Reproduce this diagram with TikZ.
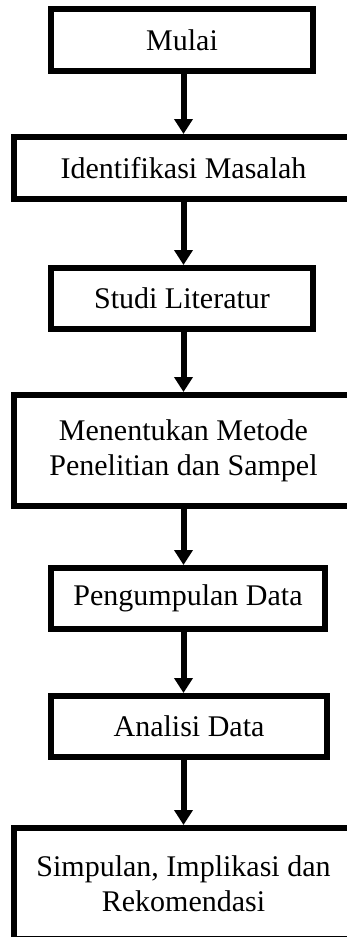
\documentclass[tikz,border=0pt]{standalone}
\usepackage{fontspec}
\setmainfont{Liberation Serif}
\usetikzlibrary{arrows.meta}
\begin{document}
\begin{tikzpicture}[x=1pt,y=-1pt,
  stepbox/.style={draw=black, line width=6pt, inner sep=0pt, align=center,
    font=\fontsize{30}{35}\selectfont, fill=white},
  flow/.style={line width=6pt, -{Triangle[width=18pt,length=15pt]}}]
  \useasboundingbox (0,0) rectangle (347,937);
  \clip (0,0) rectangle (347,937);

  % process steps, top to bottom
  \node[stepbox, minimum width=262pt, minimum height=62pt] (mulai) at (182,40) {Mulai};
  \node[stepbox, minimum width=339pt, minimum height=62pt] (identifikasi) at (183.5,168) {Identifikasi Masalah};
  \node[stepbox, minimum width=262pt, minimum height=61pt] (studi) at (182,298.5) {Studi Literatur};
  \node[stepbox, minimum width=339pt, minimum height=111pt] (metode) at (183.5,450.5) {Menentukan Metode\\Penelitian dan Sampel};
  \node[stepbox, minimum width=274pt, minimum height=61pt] (kumpul) at (188,598.5) {Pengumpulan Data};
  \node[stepbox, minimum width=276pt, minimum height=61pt] (analisis) at (189,726.5) {Analisi Data};
  \node[stepbox, minimum width=339pt, minimum height=111pt] (simpulan) at (183.5,883.5) {Simpulan, Implikasi dan\\Rekomendasi};

  % vertical axis shared by all connectors
  \coordinate (axis) at (183.5,0);

  \draw[flow] (mulai.south -| axis) -- (identifikasi.north -| axis);
  \draw[flow] (identifikasi.south -| axis) -- (studi.north -| axis);
  \draw[flow] (studi.south -| axis) -- (metode.north -| axis);
  \draw[flow] (metode.south -| axis) -- (kumpul.north -| axis);
  \draw[flow] (kumpul.south -| axis) -- (analisis.north -| axis);
  \draw[flow] (analisis.south -| axis) -- (simpulan.north -| axis);
\end{tikzpicture}
\end{document}
